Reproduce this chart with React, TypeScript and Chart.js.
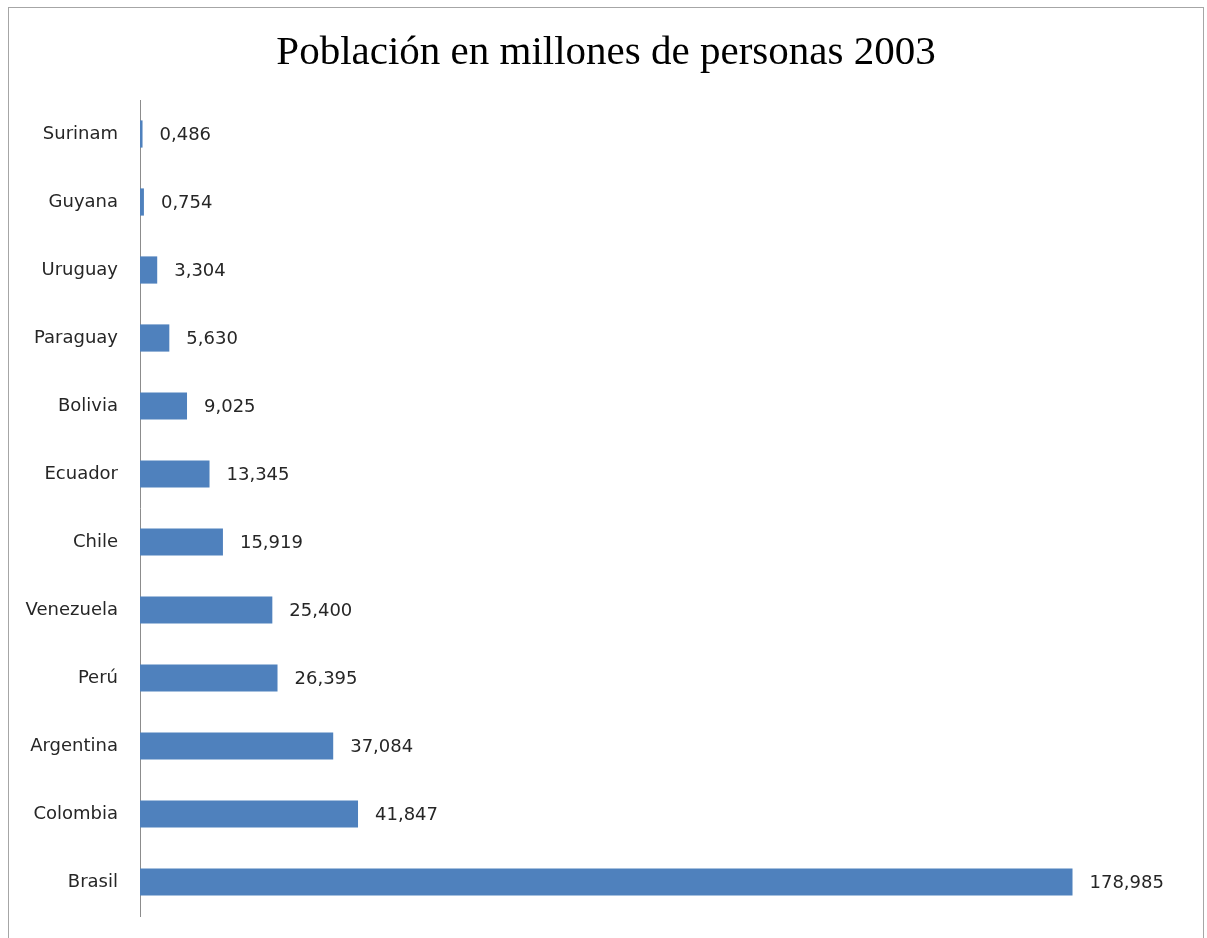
import React, { useEffect, useRef } from "react";
import { Chart, registerables } from "chart.js";

Chart.register(...registerables);

const categories = [
  "Surinam",
  "Guyana",
  "Uruguay",
  "Paraguay",
  "Bolivia",
  "Ecuador",
  "Chile",
  "Venezuela",
  "Perú",
  "Argentina",
  "Colombia",
  "Brasil",
];

const population = [
  0.486, 0.754, 3.304, 5.63, 9.025, 13.345, 15.919, 25.4, 26.395, 37.084, 41.847, 178.985,
];

const titleText = "Población en millones de personas 2003";
const axisMax = 200;
const barColor = "#4F81BD";
const labelFont = "18px 'DejaVu Sans'";
const titleFont = "41px 'Liberation Serif'";
const textColor = "#262626";

const formatValue = (v: number) => v.toFixed(3).replace(".", ",");

const frameAndLabels = {
  id: "frameAndLabels",
  beforeDraw(chart: any) {
    const ctx = chart.ctx;
    ctx.save();
    ctx.fillStyle = "#ffffff";
    ctx.fillRect(0, 0, chart.width, chart.height);
    ctx.strokeStyle = "#a6a6a6";
    ctx.lineWidth = 1;
    ctx.strokeRect(8.5, 7.5, chart.width - 12, chart.height + 10);
    ctx.font = titleFont;
    ctx.fillStyle = "#000000";
    ctx.textAlign = "center";
    ctx.textBaseline = "alphabetic";
    ctx.fillText(titleText, 606, 64);
    ctx.restore();
  },
  afterDatasetsDraw(chart: any) {
    const ctx = chart.ctx;
    const meta = chart.getDatasetMeta(0);
    ctx.save();
    ctx.font = labelFont;
    ctx.fillStyle = textColor;
    ctx.textAlign = "left";
    ctx.textBaseline = "middle";
    meta.data.forEach((bar: any, i: number) => {
      const v = chart.data.datasets[0].data[i] as number;
      ctx.fillText(formatValue(v), bar.x + 17, bar.y + 1);
    });
    ctx.restore();
  },
};

export default function App() {
  const canvasRef = useRef<HTMLCanvasElement | null>(null);

  useEffect(() => {
    document.body.style.margin = "0";
    const canvas = canvasRef.current;
    if (!canvas) return;
    const chart = new Chart(canvas, {
      type: "bar",
      data: {
        labels: categories,
        datasets: [
          {
            data: population,
            backgroundColor: barColor,
            borderWidth: 0,
            barPercentage: 0.8,
            categoryPercentage: 0.5,
          },
        ],
      },
      options: {
        indexAxis: "y",
        animation: false,
        responsive: false,
        devicePixelRatio: 1,
        layout: { padding: { left: 8, right: 25, top: 100, bottom: 22 } },
        plugins: {
          legend: { display: false },
          tooltip: { enabled: false },
          title: { display: false },
        },
        scales: {
          x: {
            display: false,
            min: 0,
            max: axisMax,
          },
          y: {
            grid: { display: false, drawTicks: false },
            border: { display: true, color: "#8c8c8c", width: 1 },
            ticks: {
              color: textColor,
              font: { family: "'DejaVu Sans'", size: 18 },
              padding: 22,
            },
            afterFit(scale: any) {
              scale.width = 132;
              scale.paddingTop = 0;
              scale.paddingBottom = 0;
            },
          },
        },
      },
      plugins: [frameAndLabels],
    });
    return () => chart.destroy();
  }, []);

  return (
    <div style={{ width: 1207, height: 938 }}>
      <canvas ref={canvasRef} width={1207} height={938} style={{ display: "block" }} />
    </div>
  );
}
